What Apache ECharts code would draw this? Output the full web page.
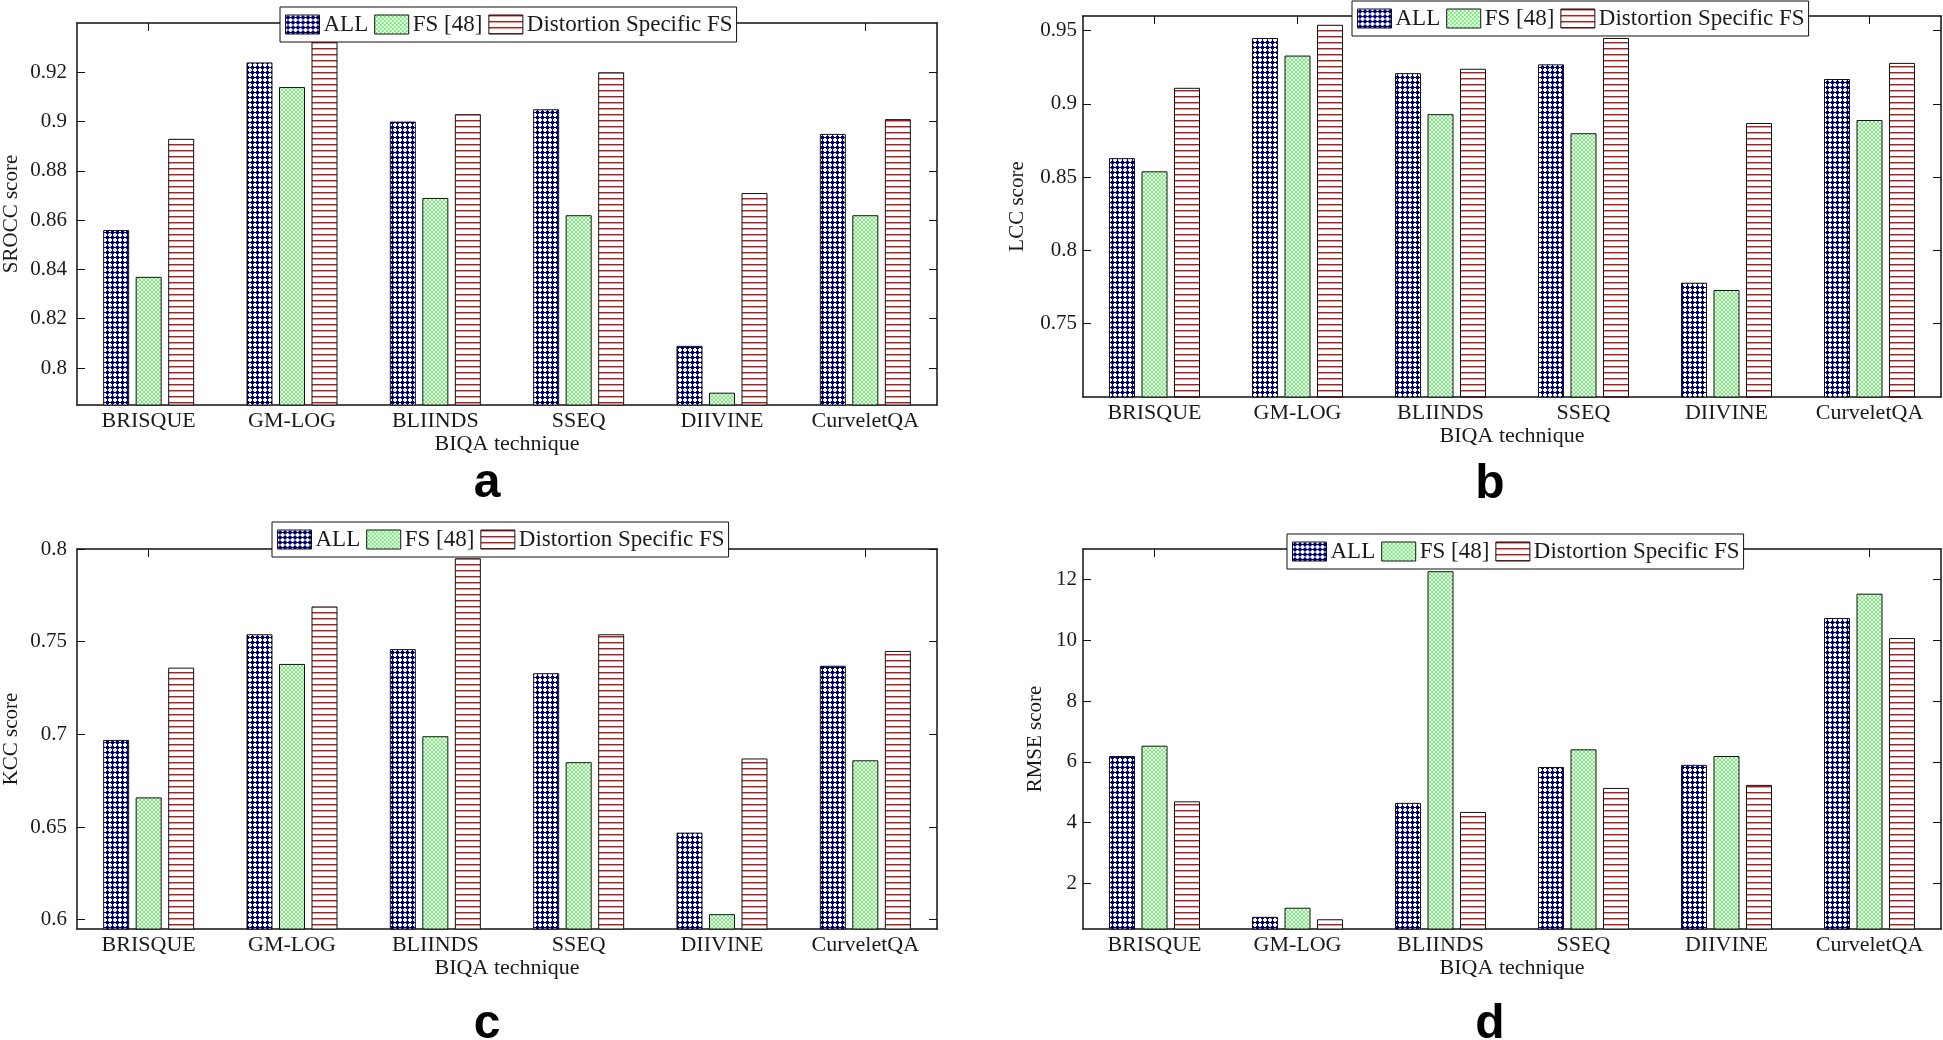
<!DOCTYPE html>
<html>
<head>
<meta charset="utf-8">
<script src="https://cdn.jsdelivr.net/npm/echarts@6/dist/echarts.min.js"></script>
<style>
html,body{margin:0;padding:0;background:#fff;}
#main{width:1943px;height:1040px;}
</style>
</head>
<body>
<div id="main"></div>
<script>
// ---------- data ----------
const categories = ['BRISQUE', 'GM-LOG', 'BLIINDS', 'SSEQ', 'DIIVINE', 'CurveletQA'];
const seriesNames = ['ALL', 'FS [48]', 'Distortion Specific FS'];

const srccAll = [0.856, 0.924, 0.900, 0.905, 0.809, 0.895];
const srccFS  = [0.837, 0.914, 0.869, 0.862, 0.790, 0.862];
const srccDS  = [0.893, 0.933, 0.903, 0.920, 0.871, 0.901];
const srccTicks = [0.8, 0.82, 0.84, 0.86, 0.88, 0.9, 0.92];

const lccAll = [0.863, 0.945, 0.921, 0.927, 0.778, 0.917];
const lccFS  = [0.854, 0.933, 0.893, 0.880, 0.773, 0.889];
const lccDS  = [0.911, 0.954, 0.924, 0.945, 0.887, 0.928];
const lccTicks = [0.75, 0.8, 0.85, 0.9, 0.95];

const kccAll = [0.697, 0.754, 0.746, 0.733, 0.647, 0.737];
const kccFS  = [0.666, 0.738, 0.699, 0.685, 0.603, 0.686];
const kccDS  = [0.736, 0.769, 0.795, 0.754, 0.687, 0.745];
const kccTicks = [0.6, 0.65, 0.7, 0.75, 0.8];

const rmseAll = [6.19, 0.90, 4.65, 5.83, 5.90, 10.73];
const rmseFS  = [6.53, 1.20, 12.27, 6.41, 6.19, 11.53];
const rmseDS  = [4.70, 0.82, 4.35, 5.14, 5.24, 10.07];
const rmseTicks = [2, 4, 6, 8, 10, 12];

// ---------- patterns ----------
function makeTile(w, h, draw) {
  const c = document.createElement('canvas');
  c.width = w; c.height = h;
  const ctx = c.getContext('2d');
  ctx.fillStyle = '#ffffff';
  ctx.fillRect(0, 0, w, h);
  draw(ctx);
  return c;
}
const dotTile = makeTile(5, 5, ctx => {
  ctx.fillStyle = '#00007a';
  ctx.fillRect(1, 1, 3, 3);
  ctx.fillRect(2, 0, 1, 5);
  ctx.fillRect(0, 2, 5, 1);
});
const hatchTile = makeTile(4, 4, ctx => {
  ctx.fillStyle = '#6cf56c';
  [[0,0],[1,1],[2,2],[3,3],[3,0],[2,1],[1,2],[0,3]].forEach(p => ctx.fillRect(p[0], p[1], 1, 1));
});
const stripeTile = makeTile(6, 6, ctx => {
  ctx.fillStyle = '#a82020';
  ctx.fillRect(0, 0, 6, 1);
  ctx.fillStyle = 'rgba(168,32,32,0.45)';
  ctx.fillRect(0, 1, 6, 1);
});
const fills = [
  { image: dotTile, repeat: 'repeat' },
  { image: hatchTile, repeat: 'repeat' },
  { image: stripeTile, repeat: 'repeat' }
];

// ---------- layout ----------
const panels = [
  { vals: [srccAll, srccFS, srccDS], ticks: srccTicks, min: 0.785, max: 0.94, name: 'SROCC score',
    grid: { left: 74, top: 23, width: 863, height: 382 }, labelMargin: 10, nameGap: 55, legend: { left: 280, top: 7 } },
  { vals: [lccAll, lccFS, lccDS], ticks: lccTicks, min: 0.7, max: 0.96, name: 'LCC score',
    grid: { left: 1083, top: 16, width: 858, height: 381 }, labelMargin: 6, nameGap: 55, legend: { left: 1352, top: 1 } },
  { vals: [kccAll, kccFS, kccDS], ticks: kccTicks, min: 0.595, max: 0.8, name: 'KCC score',
    grid: { left: 74, top: 549, width: 863, height: 380 }, labelMargin: 10, nameGap: 55, legend: { left: 272, top: 522 } },
  { vals: [rmseAll, rmseFS, rmseDS], ticks: rmseTicks, min: 0.5, max: 13, name: 'RMSE score',
    grid: { left: 1083, top: 549, width: 858, height: 380 }, labelMargin: 6, nameGap: 37, legend: { left: 1287, top: 534 } }
];
const panelLetters = [
  { t: 'a', x: 487, y: 508 }, { t: 'b', x: 1490, y: 509 },
  { t: 'c', x: 487, y: 1049 }, { t: 'd', x: 1490, y: 1049 }
];

const serif = 'Liberation Serif';
const axisLineStyle = { color: '#111', width: 1.5 };

const option = {
  backgroundColor: '#ffffff',
  animation: false,
  grid: [], xAxis: [], yAxis: [], series: [], legend: [],
  graphic: panelLetters.map(p => ({
    type: 'text', x: p.x, y: p.y,
    style: { text: p.t, font: 'bold 48px "Liberation Sans"', fill: '#000', textAlign: 'center', textVerticalAlign: 'bottom' }
  }))
};

panels.forEach((p, i) => {
  option.grid.push(Object.assign({ containLabel: false }, p.grid));
  option.xAxis.push({
    type: 'category', gridIndex: i, data: categories, position: 'bottom',
    axisLine: { show: true, lineStyle: axisLineStyle },
    axisTick: { show: true, inside: true, alignWithLabel: true, length: 8, lineStyle: { color: '#111' } },
    axisLabel: { fontFamily: serif, fontSize: 22, color: '#1a1a1a', margin: 5 },
    name: 'BIQA technique', nameLocation: 'middle', nameGap: 27,
    nameTextStyle: { fontFamily: serif, fontSize: 22, color: '#1a1a1a' }
  });
  option.xAxis.push({
    type: 'category', gridIndex: i, data: categories, position: 'top',
    axisLine: { show: true, lineStyle: axisLineStyle },
    axisTick: { show: true, inside: true, alignWithLabel: true, length: 8, lineStyle: { color: '#111' } },
    axisLabel: { show: false }
  });
  option.yAxis.push({
    type: 'value', gridIndex: i, min: p.min, max: p.max, position: 'left',
    axisLine: { show: true, lineStyle: axisLineStyle },
    axisTick: { show: true, inside: true, length: 8, customValues: p.ticks, lineStyle: { color: '#111' } },
    axisLabel: { fontFamily: serif, fontSize: 21, color: '#1a1a1a', margin: p.labelMargin, customValues: p.ticks,
                 formatter: v => String(+v.toFixed(4)) },
    splitLine: { show: false },
    name: p.name, nameLocation: 'middle', nameGap: p.nameGap, nameRotate: 90,
    nameTextStyle: { fontFamily: serif, fontSize: 21, color: '#1a1a1a' }
  });
  option.yAxis.push({
    type: 'value', gridIndex: i, min: p.min, max: p.max, position: 'right',
    axisLine: { show: true, lineStyle: axisLineStyle },
    axisTick: { show: true, inside: true, length: 8, customValues: p.ticks, lineStyle: { color: '#111' } },
    axisLabel: { show: false },
    splitLine: { show: false }
  });
  p.vals.forEach((arr, k) => {
    option.series.push({
      type: 'bar', name: seriesNames[k], data: arr,
      xAxisIndex: 2 * i, yAxisIndex: 2 * i,
      barWidth: 26, barGap: '25%',
      itemStyle: { color: fills[k], borderColor: '#111', borderWidth: 1 },
      emphasis: { disabled: true }
    });
  });
  option.legend.push({
    show: true, left: p.legend.left, top: p.legend.top, orient: 'horizontal',
    data: seriesNames.map((n, k) => ({ name: n, itemStyle: { color: fills[k], borderColor: '#111', borderWidth: 1 } })),
    icon: 'rect', itemWidth: 34, itemHeight: 19, itemGap: 6,
    padding: [6, 4, 6, 5], borderColor: '#111', borderWidth: 1, backgroundColor: '#ffffff',
    textStyle: { fontFamily: serif, fontSize: 23, color: '#1a1a1a', padding: [0, 0, 0, -1] },
    selectedMode: false
  });
});

const chart = echarts.init(document.getElementById('main'), null, { renderer: 'canvas' });
chart.setOption(option);
</script>
</body>
</html>
